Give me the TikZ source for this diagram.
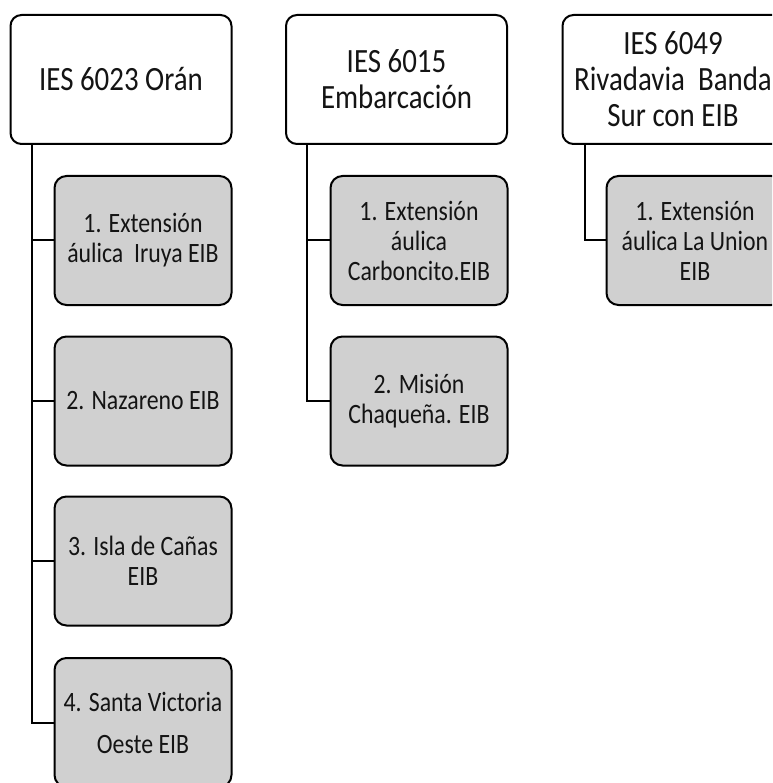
\documentclass[tikz,border=0pt]{standalone}
\usepackage{fontspec}
\setmainfont{Carlito}[FakeStretch=0.85]
\definecolor{boxgray}{RGB}{208,208,208}
\definecolor{txt}{RGB}{20,20,20}
\tikzset{
  parentbox/.style={draw=black, line width=2pt, rounded corners=11pt, fill=white,
    minimum width=221pt, minimum height=129pt, align=center, inner sep=0pt,
    font=\fontsize{34}{36}\selectfont, text=txt},
  childbox/.style={draw=black, line width=2pt, rounded corners=12pt, fill=boxgray,
    minimum width=177pt, minimum height=129pt, align=center, inner sep=0pt,
    font=\fontsize{28}{30}\selectfont, text=txt},
  link/.style={draw=black, line width=2pt}
}
\begin{document}
\begin{tikzpicture}[x=1pt, y=-1pt]
\useasboundingbox (0,0) rectangle (772,783);
\clip (0,0) rectangle (772,783);
% parents
\node[parentbox] (p1) at (121,79.5) {IES 6023 Orán};
\node[parentbox] (p2) at (396.5,79.5) {IES 6015\\Embarcación};
\node[parentbox] (p3) at (673,79.5) {IES 6049\\Rivadavia\ \ Banda\\Sur con EIB};
% children column 1
\node[childbox] (c11) at (143,240.5) {1. Extensión\\áulica\ \ Iruya EIB};
\node[childbox] (c12) at (143,401) {2. Nazareno EIB};
\node[childbox] (c13) at (143,561) {3. Isla de Cañas\\EIB};
\node[childbox, font=\fontsize{28}{42}\selectfont] (c14) at (143,722.5) {4. Santa Victoria\\Oeste EIB};
% children column 2
\node[childbox] (c21) at (419,240.5) {1. Extensión\\áulica\\Carboncito.EIB};
\node[childbox] (c22) at (419,401) {2. Misión\\Chaqueña. EIB};
% children column 3
\node[childbox] (c31) at (695,240.5) {1. Extensión\\áulica La Union\\EIB};
% connectors
\draw[link] ([xshift=22pt]p1.south west) |- (c11.west);
\draw[link] ([xshift=22pt]p1.south west) |- (c12.west);
\draw[link] ([xshift=22pt]p1.south west) |- (c13.west);
\draw[link] ([xshift=22pt]p1.south west) |- (c14.west);
\draw[link] ([xshift=22pt]p2.south west) |- (c21.west);
\draw[link] ([xshift=22pt]p2.south west) |- (c22.west);
\draw[link] ([xshift=23pt]p3.south west) |- (c31.west);
\end{tikzpicture}
\end{document}
